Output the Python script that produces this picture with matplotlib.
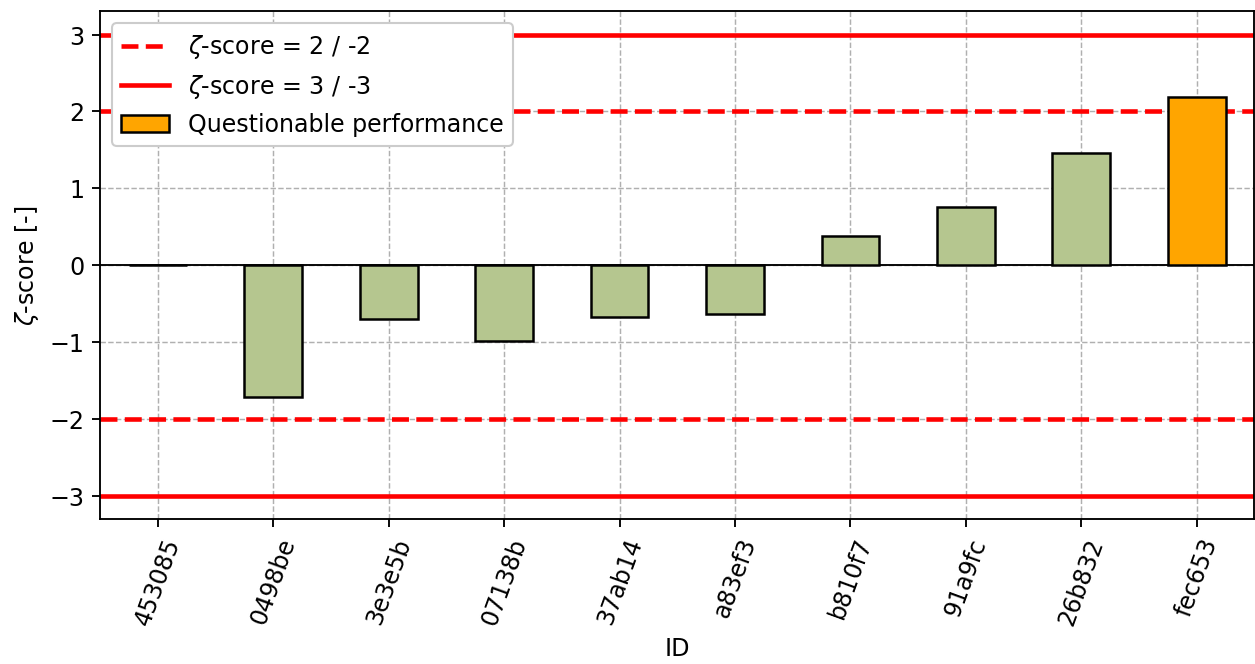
import numpy as np
from matplotlib import pyplot as plt
from matplotlib.lines import Line2D
from matplotlib.patches import Patch

ids = ['453085', '0498be', '3e3e5b', '07138b', '37ab14', 'a83ef3',
       'b810f7', '91a9fc', '26b832', 'fec653']
zscore = [0.0, -1.71, -0.70, -0.98, -0.68, -0.64, 0.38, 0.76, 1.46, 2.19]

green = '#b5c68f'
orange = 'orange'

plt.rcParams['font.size'] = 11.4
plt.rcParams['axes.linewidth'] = 0.9
plt.rcParams['xtick.major.width'] = 0.9
plt.rcParams['ytick.major.width'] = 0.9
plt.rcParams['xtick.major.size'] = 4
plt.rcParams['ytick.major.size'] = 4

fig = plt.figure(figsize=(8.37, 4.43), dpi=150)
ax = fig.add_axes([0.0797, 0.2184, 0.9195, 0.7636])

x = np.arange(len(ids))
colors = [orange if abs(z) >= 2 else green for z in zscore]
ax.bar(x, zscore, width=0.5, color=colors, edgecolor='black', linewidth=1.2, zorder=3)

ax.axhline(0, color='black', linewidth=0.9, zorder=2)
ax.axhline(2, color='red', linestyle='--', linewidth=2.2, zorder=2)
ax.axhline(-2, color='red', linestyle='--', linewidth=2.2, zorder=2)
ax.axhline(3, color='red', linestyle='-', linewidth=2.2, zorder=2)
ax.axhline(-3, color='red', linestyle='-', linewidth=2.2, zorder=2)

ax.set_xlim(-0.5, len(ids) - 0.5)
ax.set_ylim(-3.3, 3.3)
ax.set_xticks(x)
ax.set_xticklabels(ids, rotation=70)
ax.set_yticks([-3, -2, -1, 0, 1, 2, 3])
ax.grid(True, linestyle='--', color='#b0b0b0', linewidth=0.7, zorder=0)
ax.set_axisbelow(True)
ax.set_xlabel('ID')
ax.set_ylabel(r'$\zeta$-score [-]')

handles = [Line2D([], [], color='red', linestyle='--', linewidth=2.2),
           Line2D([], [], color='red', linestyle='-', linewidth=2.2),
           Patch(facecolor=orange, edgecolor='black', linewidth=1.2)]
labels = [r'$\zeta$-score = 2 / -2', r'$\zeta$-score = 3 / -3',
          'Questionable performance']
ax.legend(handles, labels, loc='upper left', framealpha=1.0)

plt.savefig('out.png', dpi=150)
